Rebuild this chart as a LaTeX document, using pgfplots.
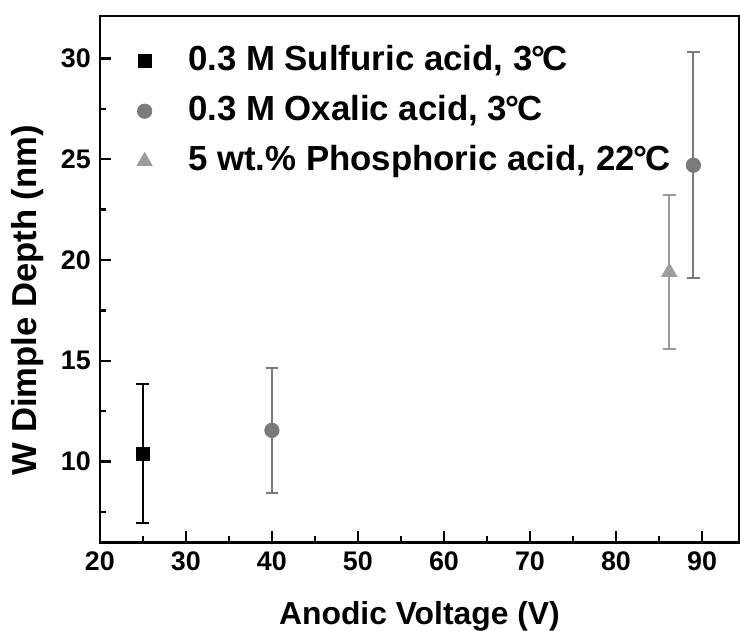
\documentclass[border=0pt]{standalone}
\usepackage{fontspec}
\setmainfont{Liberation Sans}
\usepackage{pgfplots}
\pgfplotsset{compat=1.18}
\definecolor{oxal}{HTML}{7A7A7A}
\definecolor{phos}{HTML}{9C9C9C}
\newcommand{\degC}{\kern-0.04em°\kern-0.06em C}
\begin{document}
\begin{tikzpicture}
\begin{axis}[
  scale only axis,
  width=320bp, height=263.5bp,
  xmin=20, xmax=94.3, ymin=6, ymax=32.1,
  xtick={20,30,...,90}, ytick={10,15,...,30},
  minor xtick={25,35,...,85}, minor ytick={7.5,12.5,...,27.5},
  tick pos=left, tick align=inside,
  major tick length=5.5bp, minor tick length=3bp,
  every tick/.style={black, line width=1.2bp},
  axis line style={line width=1.3bp},
  /pgf/number format/assume math mode=true,
  ticklabel style={font=\fontsize{13.5}{14}\selectfont\bfseries},
  xticklabel style={yshift=-1bp},
  yticklabel style={xshift=-1bp},
  xlabel={Anodic Voltage (V)},
  ylabel={W Dimple Depth (nm)},
  xlabel style={font=\fontsize{16}{16}\selectfont\bfseries, at={(axis description cs:0.5,0)}, anchor=base, yshift=-41bp},
  ylabel style={font=\fontsize{17.4}{17.4}\selectfont\bfseries, at={(axis description cs:-0.0984,0.46)}, anchor=base},
  legend style={at={(axis cs:20,32.1)}, anchor=north west, xshift=15.5bp, yshift=-10bp, draw=none, fill=none,
    font=\fontsize{17.5}{18}\selectfont\bfseries, row sep=4bp,
    nodes={text height=13bp, text depth=4bp}},
  legend cell align=left,
  legend image code/.code={\draw[#1] plot coordinates {(0.3cm,0cm)};},
  /tikz/every odd column/.append style={column sep=16bp},
]
\addplot[only marks, mark=square*, mark size=3.3bp, black,
  error bars/.cd, y dir=both, y explicit,
  error mark options={rotate=90, mark size=3.2bp, line width=1bp},
  error bar style={line width=1bp}]
  coordinates {(25,10.4) +- (0,3.45)};
\addlegendentry{0.3 M Sulfuric acid, 3\degC}
\addplot[only marks, mark=*, mark size=3.6bp, oxal,
  error bars/.cd, y dir=both, y explicit,
  error mark options={rotate=90, mark size=3.2bp, line width=1bp},
  error bar style={line width=1bp}]
  coordinates {(40,11.55) +- (0,3.1) (89,24.7) +- (0,5.6)};
\addlegendentry{0.3 M Oxalic acid, 3\degC}
\addplot[only marks, mark=triangle*, mark size=4.3bp, phos,
  error bars/.cd, y dir=both, y explicit,
  error mark options={rotate=90, mark size=3.2bp, line width=1bp},
  error bar style={line width=1bp}]
  coordinates {(86.2,19.4) +- (0,3.8)};
\addlegendentry{5 wt.\% Phosphoric acid, 22\degC}
\end{axis}
\pgfresetboundingbox
\path (current axis.south west) ++(-50bp,-44bp) coordinate (bl);
\path (current axis.north east) ++(0.5bp,8bp) coordinate (tr);
\useasboundingbox (bl) rectangle (tr);
\end{tikzpicture}
\end{document}
